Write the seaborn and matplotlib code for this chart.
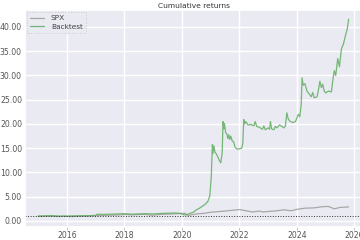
import numpy as np
import pandas as pd
import matplotlib
matplotlib.use("Agg")
import matplotlib.pyplot as plt
import seaborn as sns
from matplotlib.ticker import FormatStrFormatter

# ---- data (decimal year, cumulative return) ----
bt_years = [2015.00, 2015.25, 2015.50, 2015.75, 2016.00, 2016.25, 2016.50, 2016.75,
            2017.00, 2017.05, 2017.25, 2017.50, 2017.75, 2018.00, 2018.25, 2018.50,
            2018.75, 2019.00, 2019.25, 2019.50, 2019.75, 2019.95, 2020.05, 2020.15,
            2020.25, 2020.40, 2020.50, 2020.60, 2020.70, 2020.80, 2020.90, 2020.97,
            2021.02, 2021.06, 2021.08, 2021.11, 2021.15, 2021.20, 2021.25, 2021.30,
            2021.35, 2021.40, 2021.43, 2021.46, 2021.48, 2021.52, 2021.56, 2021.60,
            2021.63, 2021.67, 2021.70, 2021.75, 2021.80, 2021.85, 2021.90, 2021.95,
            2022.00, 2022.08, 2022.12, 2022.15, 2022.18, 2022.22, 2022.30, 2022.40,
            2022.50, 2022.55, 2022.60, 2022.70, 2022.80, 2022.85, 2022.90, 2023.00,
            2023.05, 2023.08, 2023.12, 2023.20, 2023.25, 2023.30, 2023.40, 2023.50,
            2023.55, 2023.60, 2023.65, 2023.70, 2023.75, 2023.85, 2023.95, 2024.05,
            2024.10, 2024.15, 2024.18, 2024.22, 2024.28, 2024.35, 2024.45, 2024.50,
            2024.55, 2024.60, 2024.70, 2024.75, 2024.80, 2024.85, 2024.90, 2024.95,
            2025.00, 2025.10, 2025.20, 2025.25, 2025.30, 2025.35, 2025.42, 2025.48,
            2025.55, 2025.62, 2025.70, 2025.75, 2025.80]
bt_values = [1.00, 1.05, 1.10, 1.00, 1.02, 1.05, 1.08, 1.10,
             1.15, 1.40, 1.35, 1.40, 1.45, 1.50, 1.40, 1.45,
             1.50, 1.45, 1.55, 1.60, 1.65, 1.55, 1.30, 1.25,
             1.50, 1.80, 2.30, 2.60, 3.00, 3.40, 4.00, 5.20,
             9.00, 15.8, 13.9, 15.5, 14.2, 13.8, 13.2, 12.5,
             12.0, 14.0, 20.5, 19.0, 20.1, 18.2, 18.0, 17.0,
             17.8, 16.8, 17.5, 16.5, 16.3, 15.2, 14.9, 14.8,
             14.9, 15.0, 16.0, 20.9, 20.0, 20.5, 19.8, 19.9,
             19.6, 20.5, 19.5, 19.3, 18.9, 19.6, 18.8, 19.2,
             18.9, 20.5, 19.0, 18.8, 19.5, 19.2, 19.8, 19.4,
             19.2, 19.6, 22.3, 21.0, 20.6, 20.3, 20.5, 22.0,
             21.5, 24.0, 29.5, 28.0, 28.3, 26.8, 26.0, 25.6,
             26.5, 25.4, 25.6, 27.0, 28.8, 27.5, 28.2, 26.8,
             26.4, 26.8, 26.6, 29.0, 31.0, 30.0, 33.5, 31.8,
             35.5, 36.5, 38.5, 39.5, 41.6]

spx_years = [2015.00, 2015.40, 2015.65, 2015.90, 2016.10, 2016.40, 2016.70, 2016.90,
             2017.20, 2017.60, 2017.95, 2018.10, 2018.20, 2018.70, 2018.95, 2019.30,
             2019.60, 2019.95, 2020.10, 2020.22, 2020.50, 2020.80, 2021.00, 2021.50,
             2021.99, 2022.20, 2022.45, 2022.70, 2022.80, 2023.00, 2023.30, 2023.55,
             2023.80, 2024.00, 2024.30, 2024.60, 2024.90, 2025.10, 2025.30, 2025.50,
             2025.80]
spx_values = [1.00, 1.03, 0.93, 0.98, 0.90, 0.98, 1.02, 1.05,
              1.15, 1.20, 1.30, 1.35, 1.25, 1.38, 1.18, 1.38,
              1.42, 1.55, 1.60, 1.15, 1.45, 1.60, 1.80, 2.05,
              2.35, 2.15, 1.85, 2.05, 1.85, 1.95, 2.10, 2.30,
              2.10, 2.40, 2.65, 2.70, 2.95, 3.00, 2.50, 2.80,
              2.90]

year_ticks = [2016, 2018, 2020, 2022, 2024, 2026]
y_ticks = [0, 5, 10, 15, 20, 25, 30, 35, 40]

# ---- plot ----
sns.set_theme(style="darkgrid")
plt.rcParams['font.family'] = ['DejaVu Sans']

fig = plt.figure(figsize=(3.6, 2.4), dpi=100)
ax = fig.add_axes([25/360, 13/240, 338/360, 217/240])

spx_df = pd.DataFrame({"year": spx_years, "value": spx_values})
bt_df = pd.DataFrame({"year": bt_years, "value": bt_values})

sns.lineplot(data=spx_df, x="year", y="value", ax=ax, color="#a0a0a0",
             lw=0.9, label="SPX", alpha=0.9)
sns.lineplot(data=bt_df, x="year", y="value", ax=ax, color="#5fae5f",
             lw=0.9, label="Backtest", alpha=0.85)
ax.axhline(1.0, color="#333333", lw=0.7, ls=":")

ax.set_xlim(2014.54, 2026.3)
ax.set_ylim(-1.24, 43.5)
ax.set_xticks(year_ticks)
ax.set_xticklabels([str(y) for y in year_ticks])
ax.set_yticks(y_ticks)
ax.yaxis.set_major_formatter(FormatStrFormatter('%.2f'))
ax.set_xlabel("")
ax.set_ylabel("")
ax.tick_params(axis='both', labelsize=5.6, colors="#555555")
ax.tick_params(axis='x', length=2.0, width=0.6, color="#bbbbbb", bottom=True, pad=1.2)
ax.tick_params(axis='y', length=0, pad=2.2)
ax.set_title("Cumulative returns", fontsize=5.4, color="#333333", pad=1.5)

leg = ax.legend(loc="upper left", fontsize=5.3, frameon=True, handlelength=1.9,
                borderpad=0.45, labelspacing=0.35, handletextpad=0.9,
                borderaxespad=0.25, facecolor="#EAEAF2",
                edgecolor="#cccccc", framealpha=1)
leg.get_frame().set_linestyle(":")
leg.get_frame().set_linewidth(0.7)
for t in leg.get_texts():
    t.set_color("#444444")

fig.savefig("out.png", dpi=100)
